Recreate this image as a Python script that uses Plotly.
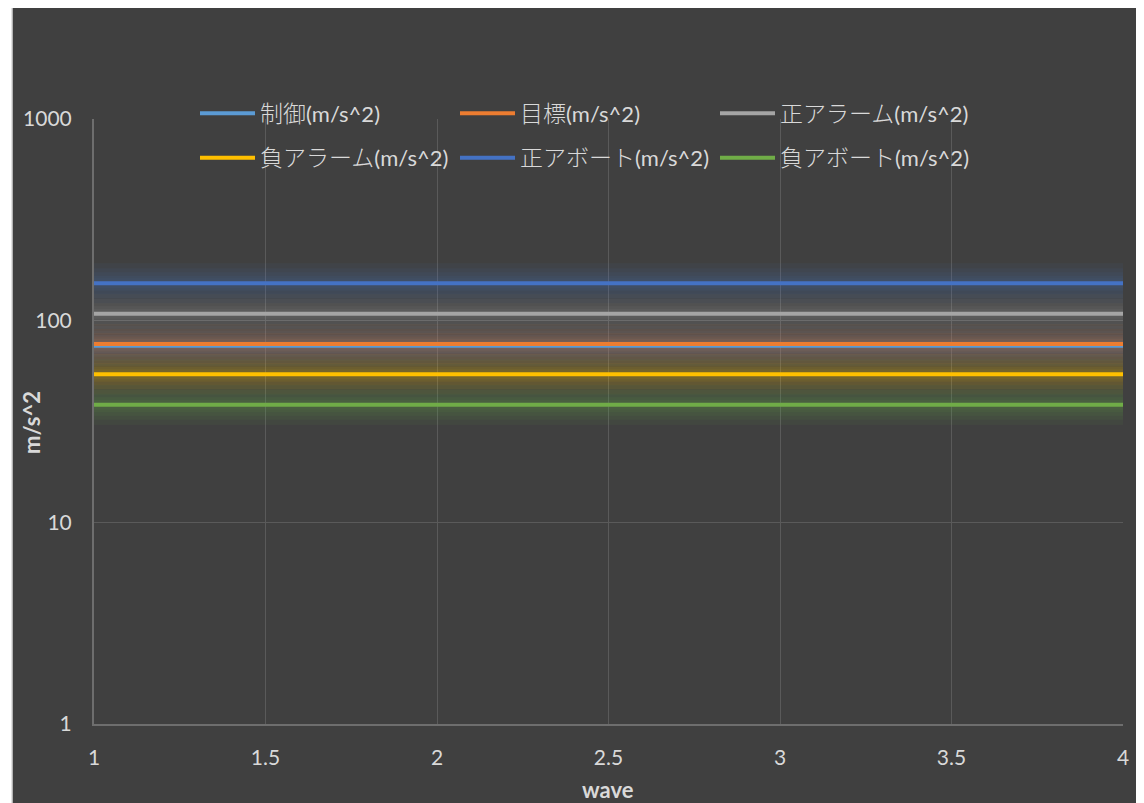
import plotly.graph_objects as go

waves = [1, 2, 3, 4]
series_jp = ["制御", "目標", "正アラーム", "負アラーム", "正アボート", "負アボート"]
unit = "(m/s^2)"
control = [75.0, 75.0, 75.0, 75.0]
target = [76.6, 76.6, 76.6, 76.6]
pos_alarm = [108.3, 108.3, 108.3, 108.3]
neg_alarm = [54.2, 54.2, 54.2, 54.2]
pos_abort = [153.2, 153.2, 153.2, 153.2]
neg_abort = [38.3, 38.3, 38.3, 38.3]
series_values = [control, target, pos_alarm, neg_alarm, pos_abort, neg_abort]
colors = ["#5B9BD5", "#ED7D31", "#A5A5A5", "#FFC000", "#4472C4", "#70AD47"]
rgb = [(91, 155, 213), (237, 125, 49), (165, 165, 165), (255, 192, 0), (68, 114, 196), (112, 173, 71)]
ytick_vals = [1, 10, 100, 1000]
ytick_text = ["1", "10", "100", "1000"]
xtick_vals = [1, 1.5, 2, 2.5, 3, 3.5, 4]
xtick_text = ["1", "1.5", "2", "2.5", "3", "3.5", "4"]
x_title = "wave"
y_title = "m/s^2"

FONT = "Lato, 'Noto Sans CJK JP', sans-serif"
JPFONT = "'Noto Sans CJK JP', sans-serif"
TXT = "#d9d9d9"

# page body adds an 8px offset; work in screen pixels and convert
OFF = 8
FW, FH = 1144 - OFF, 803 - OFF
PL, PR, PT, PB = 94 - OFF, 1123 - OFF, 119 - OFF, 724 - OFF
W = PR - PL
H = PB - PT
def sx(p):
    return (p - OFF - PL) / W
def sy(p):
    return (PB - (p - OFF)) / H

fig = go.Figure()

# glow layers
glow_widths = [40, 30, 22, 15, 10]
for vals, (r, g, b) in zip(series_values, rgb):
    for w in glow_widths:
        fig.add_trace(go.Scatter(x=waves, y=vals, mode="lines",
                                 line=dict(color=f"rgba({r},{g},{b},0.065)", width=w),
                                 showlegend=False, hoverinfo="skip"))

for i, (jp, vals, c) in enumerate(zip(series_jp, series_values, colors)):
    label = (f"<span style=\"font-family:{JPFONT};font-size:23px;font-weight:300\">{jp}</span>"
             f"{unit}")
    fig.add_trace(go.Scatter(x=waves, y=vals, mode="lines", name=label,
                             line=dict(color=c, width=4),
                             legend="legend" if i < 3 else "legend2"))

fig.add_shape(type="rect", xref="paper", yref="paper",
              x0=sx(12), x1=sx(1170), y0=sy(830), y1=sy(5),
              fillcolor="#404040", line=dict(color="#d9d9d9", width=1.5), layer="below")

fig.add_annotation(text=f"<b>{x_title}</b>", xref="paper", yref="paper",
                   x=sx(608), y=sy(789), xanchor="center", yanchor="middle", showarrow=False,
                   font=dict(family=FONT, size=22, color=TXT))
fig.add_annotation(text=f"<b>{y_title}</b>", xref="paper", yref="paper", textangle=-90,
                   x=sx(32), y=sy(423), xanchor="center", yanchor="middle", showarrow=False,
                   font=dict(family=FONT, size=22, color=TXT))

legend_common = dict(orientation="h", xanchor="left", yanchor="middle",
                     bgcolor="rgba(0,0,0,0)", font=dict(family=FONT, size=22, color=TXT),
                     entrywidth=190, entrywidthmode="pixels", itemwidth=55,
                     itemclick=False, itemdoubleclick=False)

fig.update_layout(
    template="none",
    width=FW, height=FH,
    margin=dict(l=PL, r=FW - PR, t=PT, b=FH - PB, autoexpand=False),
    paper_bgcolor="white", plot_bgcolor="rgba(0,0,0,0)",
    font=dict(family=FONT, size=21, color=TXT),
    legend=dict(x=sx(195), y=sy(113.5), **legend_common),
    legend2=dict(x=sx(195), y=sy(158), **legend_common),
    xaxis=dict(range=[1, 4], tickvals=xtick_vals, ticktext=xtick_text, automargin=False,
               showgrid=True, gridcolor="#5a5a5a", gridwidth=1,
               showline=True, linecolor="#6e6e6e", linewidth=2,
               zeroline=False, ticks="", ticklabelstandoff=14,
               tickfont=dict(family=FONT, size=21, color=TXT)),
    yaxis=dict(type="log", range=[0, 3], tickvals=ytick_vals, ticktext=ytick_text, automargin=False,
               showgrid=True, gridcolor="#5a5a5a", gridwidth=1,
               showline=True, linecolor="#6e6e6e", linewidth=2,
               zeroline=False, ticks="", ticklabelstandoff=16,
               tickfont=dict(family=FONT, size=21, color=TXT)),
    showlegend=True,
)

fig.write_html("out.html")
